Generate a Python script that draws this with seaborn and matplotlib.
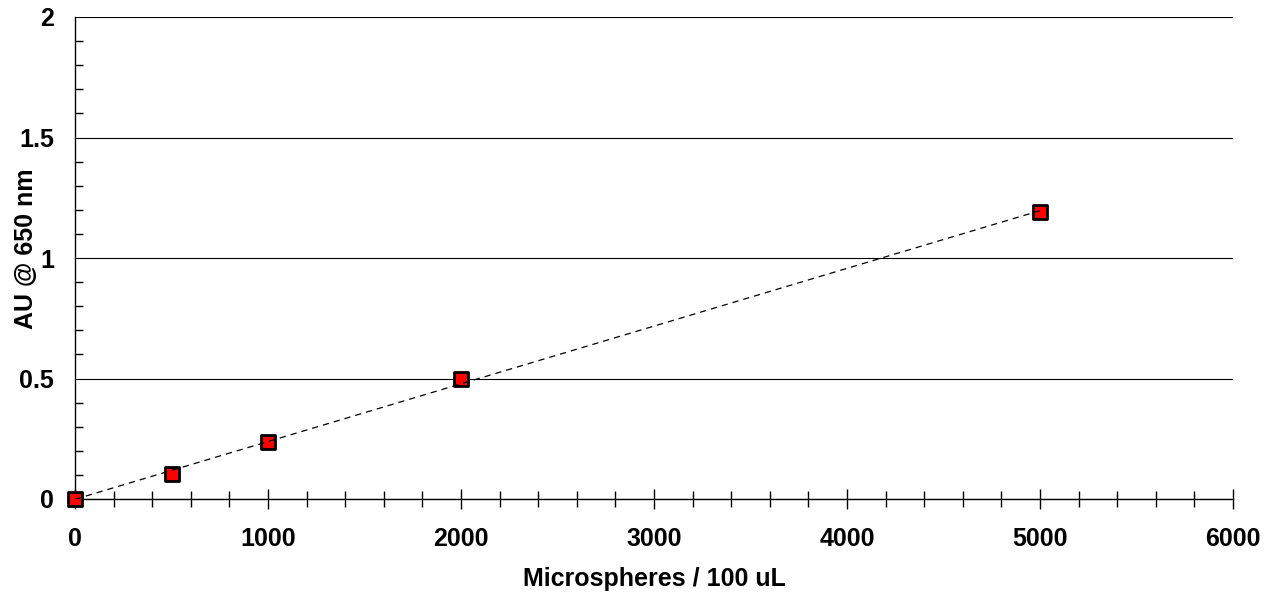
import numpy as np
import pandas as pd
import matplotlib
matplotlib.use("Agg")
import matplotlib.pyplot as plt
from matplotlib.ticker import MultipleLocator
import seaborn as sns

microspheres = [0, 500, 1000, 2000, 5000]
absorbance = [0.0, 0.104, 0.238, 0.498, 1.19]
x_ticks = [0, 1000, 2000, 3000, 4000, 5000, 6000]
x_tick_labels = ["0", "1000", "2000", "3000", "4000", "5000", "6000"]
y_ticks = [0, 0.5, 1, 1.5, 2]
y_tick_labels = ["0", "0.5", "1", "1.5", "2"]
x_label = "Microspheres / 100 uL"
y_label = "AU @ 650 nm"

df = pd.DataFrame({"x": microspheres, "y": absorbance})

sns.set_style("white", {"xtick.bottom": True, "ytick.left": True})
plt.rcParams["font.family"] = ["Liberation Sans", "DejaVu Sans"]

fig = plt.figure(figsize=(12.79, 5.94), dpi=100)
ax = fig.add_axes([75/1279, 1 - 499/594, (1233-75)/1279, (499-17)/594])

sns.regplot(data=df, x="x", y="y", ax=ax, ci=None, marker="s",
            scatter_kws=dict(s=105, color="red", edgecolors="black", linewidths=2.0,
                             alpha=1, zorder=3, clip_on=False),
            line_kws=dict(color="black", lw=0.9, ls=(0, (5, 4)), zorder=4))

ax.set_xlim(0, 6000)
ax.set_ylim(0, 2)
ax.set_xticks(x_ticks)
ax.set_xticklabels(x_tick_labels)
ax.xaxis.set_minor_locator(MultipleLocator(200))
ax.set_yticks(y_ticks)
ax.set_yticklabels(y_tick_labels)
ax.yaxis.set_minor_locator(MultipleLocator(0.1))

ax.grid(axis="y", which="major", color="black", lw=0.8)
ax.grid(axis="x", visible=False)
ax.set_axisbelow(True)
for s in ["top", "right"]:
    ax.spines[s].set_visible(False)
for s in ["left", "bottom"]:
    ax.spines[s].set_color("black")
    ax.spines[s].set_linewidth(1.0)

ax.tick_params(axis="x", which="major", direction="inout", length=14, width=1, colors="black",
               labelsize=18, pad=13, bottom=True)
ax.tick_params(axis="x", which="minor", direction="inout", length=12, width=1, colors="black",
               bottom=True)
ax.tick_params(axis="y", which="major", direction="in", length=0, labelsize=18, pad=15, left=True)
ax.tick_params(axis="y", which="minor", direction="in", length=6, width=1, colors="black", left=True)
for lab in ax.get_xticklabels() + ax.get_yticklabels():
    lab.set_fontweight("bold")
    lab.set_color("black")

ax.set_xlabel(x_label, fontsize=18, fontweight="bold", color="black")
ax.set_ylabel(y_label, fontsize=18, fontweight="bold", color="black")
ax.xaxis.set_label_coords(0.5, -0.142)
ax.yaxis.set_label_coords(-0.032, 0.52)

fig.savefig("out.png", dpi=100)
